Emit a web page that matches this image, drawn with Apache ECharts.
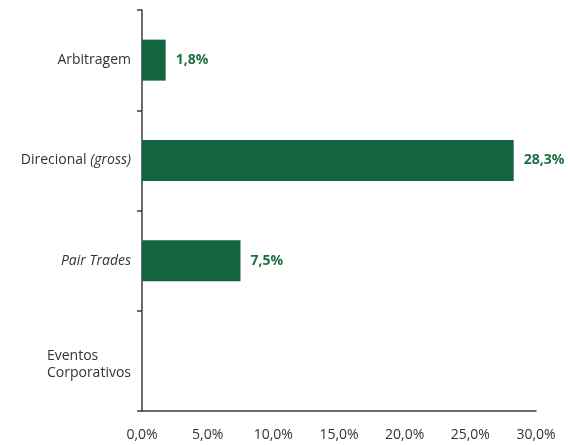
<!DOCTYPE html>
<html>
<head>
<meta charset="utf-8">
<script src="https://cdn.jsdelivr.net/npm/echarts@6/dist/echarts.min.js"></script>
<style>
  html, body { margin: 0; padding: 0; background: #fff; }
  #chart { width: 568px; height: 445px; }
</style>
</head>
<body>
<div id="chart"></div>
<script>
// Strategy categories (top to bottom) and their shares in percent
const categories = ['Arbitragem', 'Direcional (gross)', 'Pair Trades', 'Eventos Corporativos'];
const shares = [1.8, 28.3, 7.5, null];
const xTicks = [0, 5, 10, 15, 20, 25, 30];

const fmtPct = v => v.toFixed(1).replace('.', ',') + '%';

const chart = echarts.init(document.getElementById('chart'), null, { renderer: 'canvas' });

const FONT = '"Open Sans", "Noto Sans", sans-serif';

chart.setOption({
  animation: false,
  backgroundColor: '#ffffff',
  grid: { left: 142, top: 10, right: 32, bottom: 34, containLabel: false },
  xAxis: {
    type: 'value',
    min: xTicks[0],
    max: xTicks[xTicks.length - 1],
    interval: 5,
    axisLine: { show: true, lineStyle: { color: '#3c3c3c', width: 1.5 } },
    axisTick: { show: false },
    splitLine: { show: false },
    axisLabel: {
      margin: 17,
      color: '#333',
      fontFamily: FONT,
      fontSize: 14,
      formatter: v => fmtPct(v)
    }
  },
  yAxis: {
    type: 'category',
    inverse: true,
    data: categories,
    axisLine: { show: true, lineStyle: { color: '#3c3c3c', width: 1.5 } },
    axisTick: { show: true, length: 5, lineStyle: { color: '#3c3c3c', width: 1.5 } },
    axisLabel: {
      margin: 11,
      color: '#333',
      fontFamily: FONT,
      fontSize: 14,
      formatter: function (v) {
        if (v === 'Direcional (gross)') return '{n|Direcional }{i|(gross)}';
        if (v === 'Pair Trades') return '{i|Pair Trades}';
        // two left-aligned lines, nudged down by a thin spacer line
        if (v === 'Eventos Corporativos') return '{s| }\n{e|Eventos}\n{e|Corporativos}';
        return '{n|' + v + '}';
      },
      rich: {
        n: { fontFamily: FONT, fontSize: 14, color: '#333' },
        i: { fontFamily: FONT, fontSize: 14, color: '#333', fontStyle: 'italic' },
        s: { fontSize: 1, lineHeight: 7 },
        e: { fontFamily: FONT, fontSize: 14, color: '#333', align: 'left', lineHeight: 17 }
      }
    }
  },
  series: [{
    type: 'bar',
    data: shares,
    barWidth: 41,
    itemStyle: { color: '#136440' },
    label: {
      show: true,
      position: 'right',
      distance: 10,
      color: '#1e6e45',
      fontFamily: FONT,
      fontSize: 14,
      fontWeight: 'bold',
      formatter: p => (p.value == null ? '' : fmtPct(p.value))
    }
  }]
});
</script>
</body>
</html>
